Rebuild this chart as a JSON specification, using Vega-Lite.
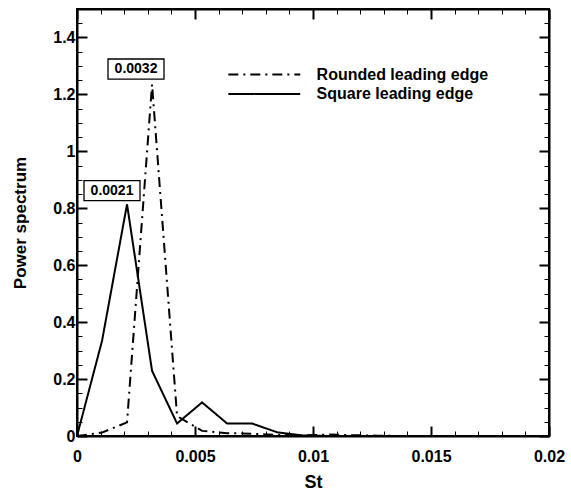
{
  "$schema": "https://vega.github.io/schema/vega-lite/v6.json",
  "width": 472,
  "height": 427,
  "autosize": {"type": "none"},
  "padding": {"left": 77, "top": 9, "right": 22, "bottom": 57},
  "background": "white",
  "config": {
    "view": {"stroke": "black", "strokeWidth": 2},
    "font": "Liberation Sans",
    "axis": {
      "domainColor": "black", "domainWidth": 2, "tickColor": "black",
      "labelColor": "black", "titleColor": "black",
      "labelFont": "Liberation Sans", "labelFontWeight": "bold",
      "titleFont": "Liberation Sans", "titleFontWeight": "bold",
      "grid": false
    },
    "legend": {
      "orient": "none", "legendX": 178.8, "legendY": 57,
      "symbolType": "M-5,0H5", "symbolSize": 207, "symbolStrokeWidth": 2,
      "symbolStrokeColor": "black", "symbolFillColor": "transparent",
      "labelFont": "Liberation Sans", "labelFontWeight": "bold", "labelFontSize": 16,
      "labelColor": "black", "labelOffset": 43.8, "labelLimit": 400, "rowPadding": 2.4, "padding": 0
    }
  },
  "datasets": {
    "spectra": [
      {"st": 0, "power": 0, "series": "Rounded leading edge"},
      {"st": 0.00106, "power": 0.012, "series": "Rounded leading edge"},
      {"st": 0.00212, "power": 0.048, "series": "Rounded leading edge"},
      {"st": 0.00318, "power": 1.235, "series": "Rounded leading edge"},
      {"st": 0.00424, "power": 0.07, "series": "Rounded leading edge"},
      {"st": 0.0053, "power": 0.018, "series": "Rounded leading edge"},
      {"st": 0.00636, "power": 0.01, "series": "Rounded leading edge"},
      {"st": 0.00742, "power": 0.008, "series": "Rounded leading edge"},
      {"st": 0.00848, "power": 0.004, "series": "Rounded leading edge"},
      {"st": 0.00954, "power": 0.002, "series": "Rounded leading edge"},
      {"st": 0.0106, "power": 0.005, "series": "Rounded leading edge"},
      {"st": 0.01166, "power": 0.003, "series": "Rounded leading edge"},
      {"st": 0.01272, "power": 0.001, "series": "Rounded leading edge"},
      {"st": 0.01378, "power": 0, "series": "Rounded leading edge"},
      {"st": 0.01484, "power": 0, "series": "Rounded leading edge"},
      {"st": 0.0159, "power": 0, "series": "Rounded leading edge"},
      {"st": 0.01696, "power": 0, "series": "Rounded leading edge"},
      {"st": 0.01802, "power": 0, "series": "Rounded leading edge"},
      {"st": 0.01908, "power": 0, "series": "Rounded leading edge"},
      {"st": 0.02014, "power": 0, "series": "Rounded leading edge"},
      {"st": 0, "power": 0, "series": "Square leading edge"},
      {"st": 0.00106, "power": 0.334, "series": "Square leading edge"},
      {"st": 0.00212, "power": 0.814, "series": "Square leading edge"},
      {"st": 0.00318, "power": 0.229, "series": "Square leading edge"},
      {"st": 0.00424, "power": 0.044, "series": "Square leading edge"},
      {"st": 0.0053, "power": 0.118, "series": "Square leading edge"},
      {"st": 0.00636, "power": 0.044, "series": "Square leading edge"},
      {"st": 0.00742, "power": 0.044, "series": "Square leading edge"},
      {"st": 0.00848, "power": 0.013, "series": "Square leading edge"},
      {"st": 0.00954, "power": 0.002, "series": "Square leading edge"},
      {"st": 0.0106, "power": 0, "series": "Square leading edge"},
      {"st": 0.01166, "power": 0, "series": "Square leading edge"},
      {"st": 0.01272, "power": 0, "series": "Square leading edge"},
      {"st": 0.01378, "power": 0, "series": "Square leading edge"},
      {"st": 0.01484, "power": 0, "series": "Square leading edge"},
      {"st": 0.0159, "power": 0, "series": "Square leading edge"},
      {"st": 0.01696, "power": 0, "series": "Square leading edge"},
      {"st": 0.01802, "power": 0, "series": "Square leading edge"},
      {"st": 0.01908, "power": 0, "series": "Square leading edge"},
      {"st": 0.02014, "power": 0, "series": "Square leading edge"}
    ],
    "peaks": [
      {"st": 0.0025, "power": 1.289, "label": "0.0032"},
      {"st": 0.001483, "power": 0.862, "label": "0.0021"}
    ]
  },
  "layer": [
    {
      "data": {"name": "spectra"},
      "mark": {"type": "line", "color": "black", "strokeWidth": 2, "clip": true},
      "encoding": {
        "x": {
          "field": "st", "type": "quantitative",
          "scale": {"domain": [0, 0.02], "nice": false, "zero": false},
          "axis": {
            "orient": "bottom",
            "values": [0, 0.001, 0.002, 0.003, 0.004, 0.005, 0.006, 0.007, 0.008, 0.009, 0.01, 0.011, 0.012, 0.013, 0.014, 0.015, 0.016, 0.017, 0.018, 0.019, 0.02],
            "labelExpr": "abs(datum.value*200-round(datum.value*200))<1e-6 ? format(datum.value, '~g') : ''",
            "tickSize": {"condition": {"test": "abs(datum.value*200-round(datum.value*200))<1e-6", "value": -10}, "value": -5},
            "tickWidth": {"condition": {"test": "abs(datum.value*200-round(datum.value*200))<1e-6", "value": 2}, "value": 1},
            "labelFontSize": 16, "labelPadding": 22, "labelFlush": false, "labelOverlap": false,
            "title": "St", "titleFontSize": 18, "titlePadding": 4
          }
        },
        "y": {
          "field": "power", "type": "quantitative",
          "scale": {"domain": [0, 1.5], "nice": false},
          "axis": {
            "orient": "left",
            "values": [0, 0.05, 0.1, 0.15, 0.2, 0.25, 0.3, 0.35, 0.4, 0.45, 0.5, 0.55, 0.6, 0.65, 0.7, 0.75, 0.8, 0.85, 0.9, 0.95, 1, 1.05, 1.1, 1.15, 1.2, 1.25, 1.3, 1.35, 1.4, 1.45, 1.5],
            "labelExpr": "abs(datum.value*5-round(datum.value*5))<1e-6 && datum.value < 1.45 ? format(datum.value, '~g') : ''",
            "tickSize": {"condition": {"test": "abs(datum.value*5-round(datum.value*5))<1e-6", "value": -10}, "value": -5},
            "tickWidth": {"condition": {"test": "abs(datum.value*5-round(datum.value*5))<1e-6", "value": 2}, "value": 1},
            "labelFontSize": 16, "labelPadding": 12, "labelFlush": false, "labelOverlap": false,
            "title": "Power spectrum", "titleFontSize": 17, "titlePadding": 23
          }
        },
        "strokeDash": {
          "field": "series", "type": "nominal",
          "scale": {"domain": ["Rounded leading edge", "Square leading edge"], "range": [[10, 5, 2, 5], [1, 0]]},
          "legend": {"title": null}
        }
      }
    },
    {
      "data": {"name": "peaks"},
      "mark": {"type": "point", "shape": "M-1,-0.36H1V0.36H-1Z", "size": 3136, "filled": true, "fill": "white", "stroke": "black", "strokeWidth": 1.3, "opacity": 1},
      "encoding": {
        "x": {
          "field": "st", "type": "quantitative",
          "axis": {
            "orient": "top",
            "values": [0, 0.001, 0.002, 0.003, 0.004, 0.005, 0.006, 0.007, 0.008, 0.009, 0.01, 0.011, 0.012, 0.013, 0.014, 0.015, 0.016, 0.017, 0.018, 0.019, 0.02],
            "labels": false, "title": null,
            "tickSize": {"condition": {"test": "abs(datum.value*200-round(datum.value*200))<1e-6", "value": -10}, "value": -5},
            "tickWidth": {"condition": {"test": "abs(datum.value*200-round(datum.value*200))<1e-6", "value": 2}, "value": 1}
          }
        },
        "y": {
          "field": "power", "type": "quantitative",
          "axis": {
            "orient": "right",
            "values": [0, 0.05, 0.1, 0.15, 0.2, 0.25, 0.3, 0.35, 0.4, 0.45, 0.5, 0.55, 0.6, 0.65, 0.7, 0.75, 0.8, 0.85, 0.9, 0.95, 1, 1.05, 1.1, 1.15, 1.2, 1.25, 1.3, 1.35, 1.4, 1.45, 1.5],
            "labels": false, "title": null,
            "tickSize": {"condition": {"test": "abs(datum.value*5-round(datum.value*5))<1e-6", "value": -10}, "value": -5},
            "tickWidth": {"condition": {"test": "abs(datum.value*5-round(datum.value*5))<1e-6", "value": 2}, "value": 1}
          }
        }
      }
    },
    {
      "data": {"name": "peaks"},
      "mark": {"type": "text", "font": "Liberation Sans", "fontWeight": "bold", "fontSize": 14, "color": "black", "align": "center", "baseline": "middle"},
      "encoding": {
        "x": {"field": "st", "type": "quantitative", "axis": null},
        "y": {"field": "power", "type": "quantitative", "axis": null},
        "text": {"field": "label"}
      }
    }
  ],
  "resolve": {"axis": {"x": "independent", "y": "independent"}}
}
